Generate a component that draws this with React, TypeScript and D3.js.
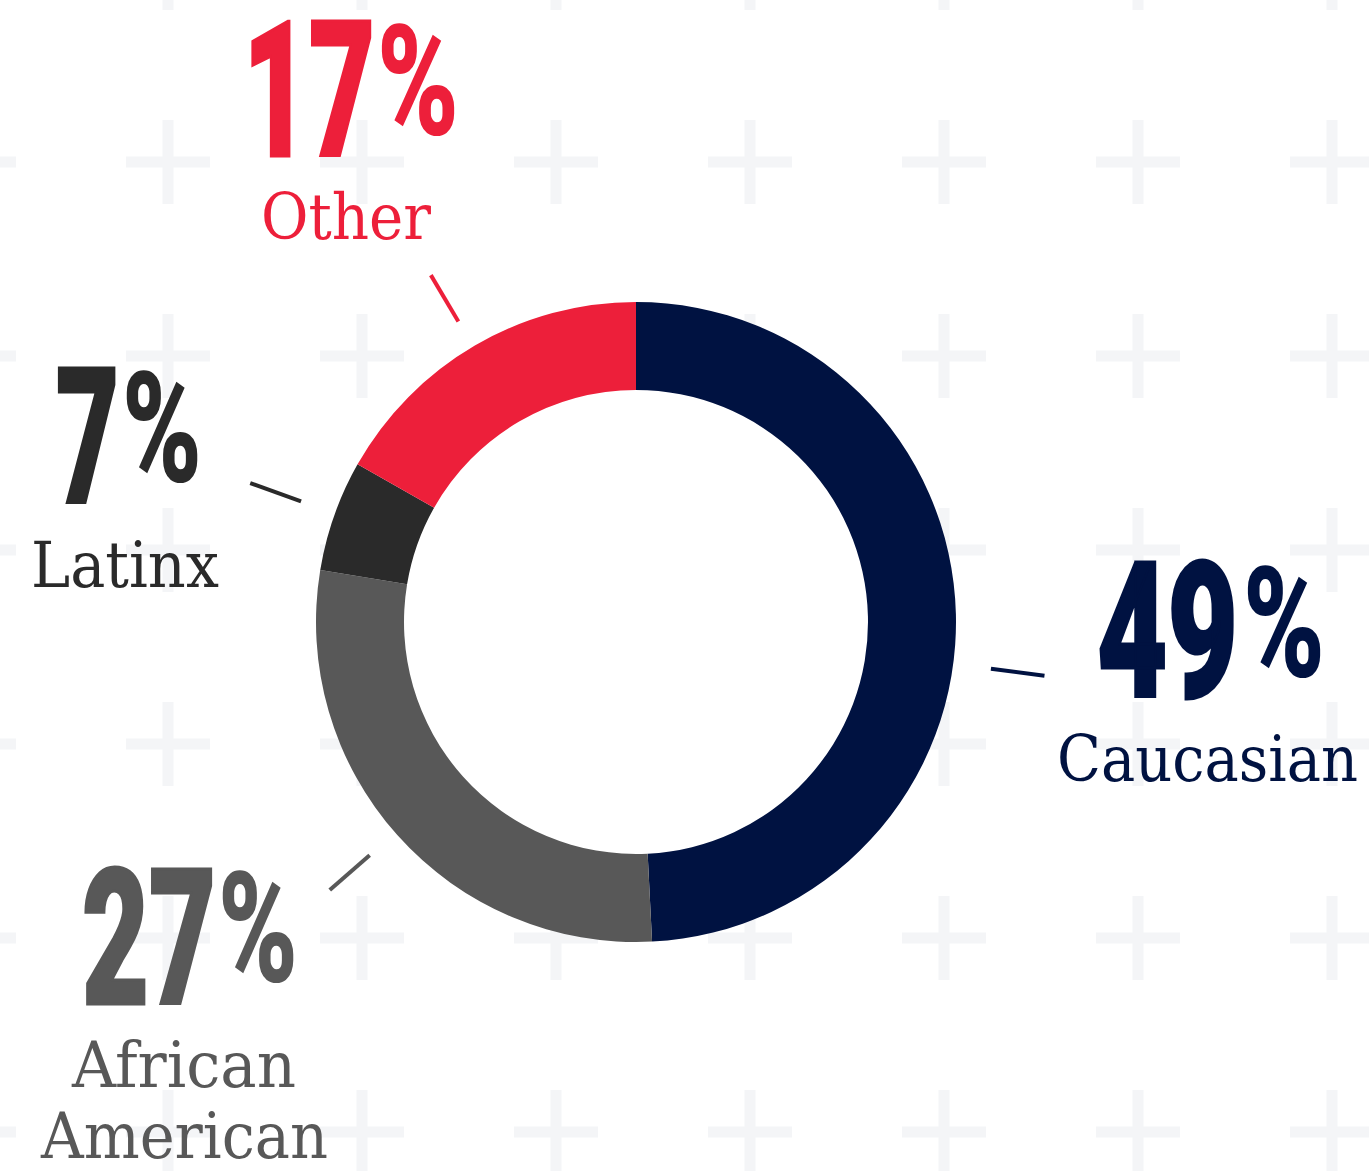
import React from "react";
import * as d3 from "d3";

const categories = ["Caucasian", "African American", "Latinx", "Other"];
const arcShares = [49.2, 28.4, 5.6, 16.8];
const pctLabels = ["49", "27", "7", "17"];
const nameLines = [["Caucasian"], ["African", "American"], ["Latinx"], ["Other"]];
const colors = ["#001241", "#585858", "#2a2a2a", "#ed1f3a"];

const W = 1369;
const H = 1171;
const CX = 636;
const CY = 622;
const R_OUT = 320;
const R_IN = 232;

// layout (positions of text blocks, leader lines)
const layout = [
  { dx: 1098, dw: 139, base: 698, px: 1243, pw: 82, pbase: 677, names: [{ x: 1058, w: 299, base: 781 }], leader: 97.5, r1: 358, r2: 412 },
  { dx: 83, dw: 132, base: 1005, px: 218, pw: 80, pbase: 982, names: [{ x: 73, w: 222, base: 1087 }, { x: 42, w: 285, base: 1158 }], leader: 228.8, r1: 354, r2: 407 },
  { dx: 57, dw: 61, base: 504, px: 122, pw: 80, pbase: 482, names: [{ x: 32, w: 186, base: 587 }], leader: 289.8, r1: 356, r2: 410 },
  { dx: 244, dw: 130, base: 157, px: 377, pw: 82, pbase: 135, names: [{ x: 262, w: 168, base: 239 }], leader: 329.4, r1: 349, r2: 403 },
];

const plusXs = d3.range(-26, W + 60, 194);
const plusYs = d3.range(-32, H + 60, 194);

export default function App() {
  const pie = d3.pie<number>().sort(null).startAngle(0).endAngle(2 * Math.PI);
  const arcs = pie(arcShares);
  const arcGen = d3.arc<d3.PieArcDatum<number>>().innerRadius(R_IN).outerRadius(R_OUT);
  const numFont = "Roboto, 'DejaVu Sans', sans-serif";
  const nameFont = "'DejaVu Serif', serif";
  return (
    <svg
      width={W}
      height={H}
      style={{ position: "absolute", left: 0, top: 0, display: "block", background: "#fff" }}
    >
      <g fill="#f4f5f7">
        {plusXs.map((x) =>
          plusYs.map((y) => (
            <g key={`${x}-${y}`}>
              <rect x={x - 42} y={y - 5.5} width={84} height={11} />
              <rect x={x - 5.5} y={y - 42} width={11} height={84} />
            </g>
          ))
        )}
      </g>
      <g transform={`translate(${CX},${CY})`}>
        <circle r={R_IN} fill="#fff" />
        {arcs.map((a, i) => (
          <path key={categories[i]} d={arcGen(a) || ""} fill={colors[i]} />
        ))}
        {layout.map((l, i) => {
          const t = (l.leader * Math.PI) / 180;
          return (
            <line
              key={i}
              x1={l.r1 * Math.sin(t)}
              y1={-l.r1 * Math.cos(t)}
              x2={l.r2 * Math.sin(t)}
              y2={-l.r2 * Math.cos(t)}
              stroke={colors[i]}
              strokeWidth={4}
            />
          );
        })}
      </g>
      {layout.map((l, i) => (
        <g key={i} fill={colors[i]}>
          <text
            x={l.dx - 1}
            y={l.base - 1.5}
            fontFamily={numFont}
            fontWeight={900}
            fontSize={190}
            textLength={l.dw + 2}
            lengthAdjust="spacingAndGlyphs"
            stroke={colors[i]}
            strokeWidth={3}
            strokeLinejoin="miter"
          >
            {pctLabels[i]}
          </text>
          <text
            x={l.px}
            y={l.pbase}
            fontFamily={numFont}
            fontWeight={900}
            fontSize={154}
            textLength={l.pw}
            lengthAdjust="spacingAndGlyphs"
          >
            %
          </text>
          {l.names.map((n, j) => (
            <text
              key={j}
              x={n.x - 1}
              y={n.base}
              fontFamily={nameFont}
              fontSize={64}
              textLength={n.w + 2}
              lengthAdjust="spacingAndGlyphs"
            >
              {nameLines[i][j]}
            </text>
          ))}
        </g>
      ))}
    </svg>
  );
}
